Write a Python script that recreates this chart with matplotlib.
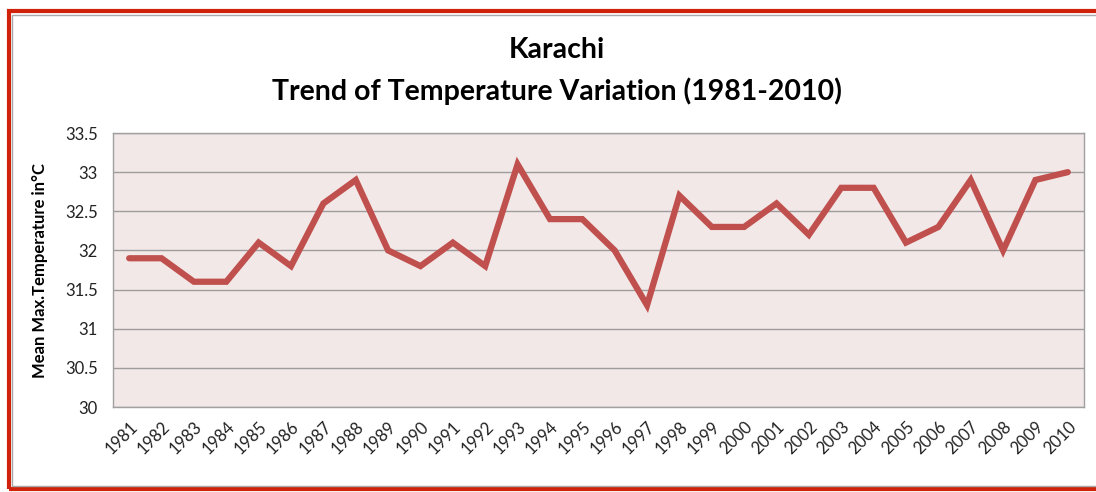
import numpy as np
import matplotlib
matplotlib.use("Agg")
import matplotlib.pyplot as plt
import matplotlib.patches as patches

years = [str(y) for y in range(1981, 2011)]
temps = [31.9, 31.9, 31.6, 31.6, 32.1, 31.8, 32.6, 32.9, 32.0, 31.8,
         32.1, 31.8, 33.1, 32.4, 32.4, 32.0, 31.3, 32.7, 32.3, 32.3,
         32.6, 32.2, 32.8, 32.8, 32.1, 32.3, 32.9, 32.0, 32.9, 33.0]
yticks = [30, 30.5, 31, 31.5, 32, 32.5, 33, 33.5]
ytick_labels = ["30", "30.5", "31", "31.5", "32", "32.5", "33", "33.5"]

plt.rcParams['font.family'] = ['Lato', 'DejaVu Sans']

fig = plt.figure(figsize=(10.96, 4.92), dpi=100)
W, H = 1096, 492

# outer frame: red border with thin grey inner line
fig.patches.append(patches.Rectangle((8.5 / W, 3 / H), (1100 - 8.5) / W, (481 - 3) / H,
                                     transform=fig.transFigure, fill=False,
                                     edgecolor='#D0220A', linewidth=3.0))
fig.patches.append(patches.Rectangle((11.5 / W, 6 / H), (1100 - 11.5) / W, (477.5 - 6) / H,
                                     transform=fig.transFigure, fill=False,
                                     edgecolor='#A8A8A8', linewidth=1.0))

ax = fig.add_axes([113 / W, 1 - 407 / H, (1084 - 113) / W, (407 - 133) / H])
ax.set_facecolor('#F2E8E8')
x = np.arange(len(years))
ax.plot(x, temps, color='#C0504D', linewidth=4.5, solid_capstyle='round',
        solid_joinstyle='miter')
ax.set_xlim(-0.5, len(years) - 0.5)
ax.set_ylim(30, 33.5)
ax.set_yticks(yticks)
ax.set_yticklabels(ytick_labels)
ax.set_xticks(x)
ax.set_xticklabels(years, rotation=45, ha='right', rotation_mode='anchor')
ax.tick_params(axis='both', length=0, labelsize=12, colors='#222222')
ax.tick_params(axis='y', pad=11)
ax.tick_params(axis='x', pad=8)
ax.yaxis.grid(True, color='#A09C9C', linewidth=1.0)
ax.set_axisbelow(True)
for s in ax.spines.values():
    s.set_color('#A0A0A0')
    s.set_linewidth(1.0)

ax.set_ylabel('Mean Max.Temperature in°C', fontsize=12, fontweight='bold', labelpad=12)

fig.text(557 / W, 1 - 50 / H, 'Karachi', ha='center', va='center',
         fontsize=20.5, fontweight='bold')
fig.text(557 / W, 1 - 91 / H, 'Trend of Temperature Variation (1981-2010)', ha='center',
         va='center', fontsize=20.5, fontweight='bold')

fig.savefig('out.png', dpi=100)
